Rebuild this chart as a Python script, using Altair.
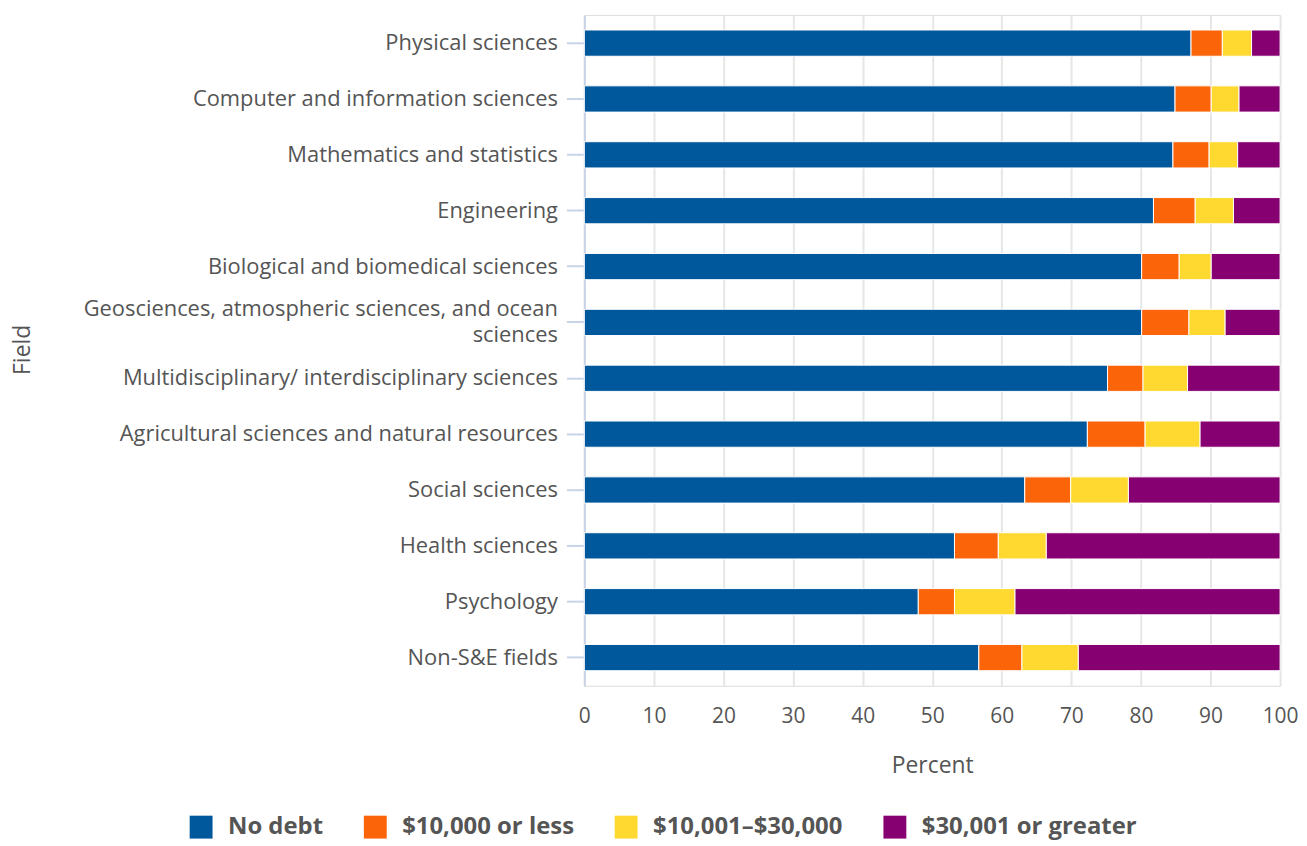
import altair as alt
import pandas as pd

fields = [
    "Physical sciences",
    "Computer and information sciences",
    "Mathematics and statistics",
    "Engineering",
    "Biological and biomedical sciences",
    "Geosciences, atmospheric sciences, and ocean sciences",
    "Multidisciplinary/ interdisciplinary sciences",
    "Agricultural sciences and natural resources",
    "Social sciences",
    "Health sciences",
    "Psychology",
    "Non-S&E fields",
]
categories = ["No debt", "$10,000 or less", "$10,001–$30,000", "$30,001 or greater"]
no_debt = [87.2, 84.9, 84.6, 81.8, 80.1, 80.1, 75.2, 72.3, 63.3, 53.2, 48.0, 56.7]
under_10k = [4.5, 5.2, 5.2, 6.0, 5.4, 6.8, 5.1, 8.3, 6.6, 6.3, 5.2, 6.2]
mid_10_30k = [4.2, 4.0, 4.1, 5.5, 4.6, 5.2, 6.4, 7.9, 8.3, 6.9, 8.7, 8.1]
over_30k = [4.1, 5.9, 6.1, 6.7, 9.9, 7.9, 13.3, 11.5, 21.8, 33.6, 38.1, 29.0]
colors = ["#00589C", "#FC6409", "#FFD92F", "#870072"]

rows = []
for series_idx, (cat, vals) in enumerate(zip(categories, [no_debt, under_10k, mid_10_30k, over_30k])):
    for f, v in zip(fields, vals):
        rows.append({"Field": f, "Debt": cat, "Percent": v, "order": series_idx})
df = pd.DataFrame(rows)

geo = fields[5]
label_expr = (
    f"datum.label == '{geo}' ? ['Geosciences, atmospheric sciences, and ocean', 'sciences'] : datum.label"
)

chart = (
    alt.Chart(df)
    .mark_bar(stroke="white", strokeWidth=1)
    .encode(
        y=alt.Y(
            "Field:N",
            sort=fields,
            title="Field",
            scale=alt.Scale(paddingInner=0.53, paddingOuter=0.27),
            axis=alt.Axis(
                labelExpr=label_expr,
                labelFontSize=22,
                labelColor="#555555",
                labelFont="Open Sans",
                labelPadding=9,
                labelLimit=700,
                labelLineHeight=26,
                labelOffset={"condition": {"test": f"datum.value == '{geo}'", "value": -13}, "value": 0},
                tickColor="#C9D3E8",
                tickSize=18,
                tickWidth=2,
                domainColor="#C9D3E8",
                domainWidth=2,
                grid=False,
                titleFont="Open Sans",
                titleFontSize=23,
                titleFontWeight="normal",
                titleColor="#555555",
                titleAngle=-90,
                titleX=-564,
                titleY=336,
                titleAlign="center",
                titleBaseline="middle",
            ),
        ),
        x=alt.X(
            "Percent:Q",
            stack="zero",
            title="Percent",
            scale=alt.Scale(domain=[0, 100], nice=False),
            axis=alt.Axis(
                values=list(range(0, 101, 10)),
                labelFontSize=21,
                labelColor="#555555",
                labelFont="Open Sans",
                labelPadding=20,
                labelFlush=False,
                gridColor="#E6E6E6",
                gridWidth=2,
                domain=False,
                ticks=False,
                titleFont="Open Sans",
                titleFontSize=23,
                titleFontWeight="normal",
                titleColor="#555555",
                titlePadding=28,
            ),
        ),
        color=alt.Color(
            "Debt:N",
            sort=categories,
            scale=alt.Scale(domain=categories, range=colors),
            legend=alt.Legend(
                title=None,
                orient="none",
                legendX=-397,
                legendY=804,
                direction="horizontal",
                symbolType="square",
                symbolSize=529,
                symbolStrokeWidth=0,
                labelFont="Open Sans",
                labelFontSize=24,
                labelFontWeight="bold",
                labelColor="#555555",
                labelLimit=400,
                columnPadding=40,
                labelOffset=15,
            ),
        ),
        order=alt.Order("order:Q", sort="ascending"),
    )
    .properties(width=699, height=674)
    .configure_view(stroke=None)
    .configure(padding={"left": 4, "top": 5, "right": 0, "bottom": 0})
)

chart.save("out.html", embed_options={"renderer": "svg", "actions": False})
